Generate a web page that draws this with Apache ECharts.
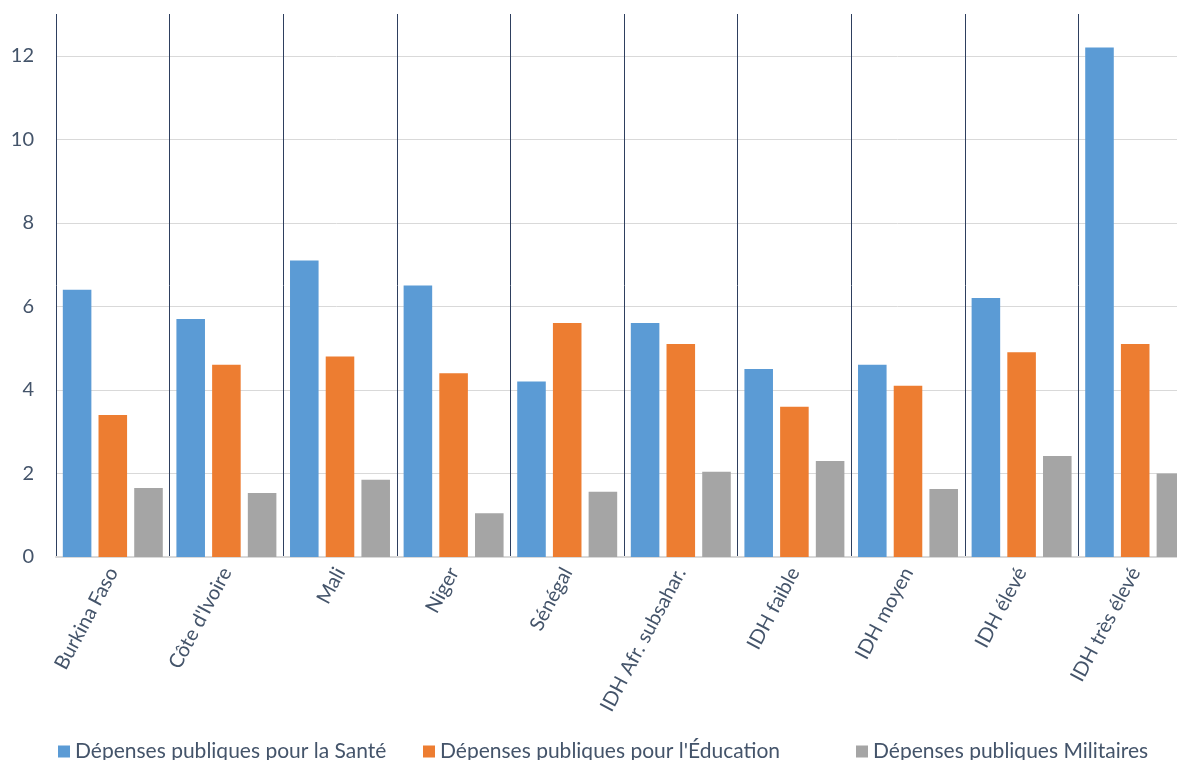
<!DOCTYPE html>
<html lang="fr">
<head>
    <meta charset="UTF-8">
    <title>Dépenses publiques</title>
    <style type="text/css">
        *{ margin: 0; padding: 0; }
        #main{ width: 1177px; height: 760px; }
    </style>
</head>
<body>
    <div id="main"></div>
    <script src="https://cdn.jsdelivr.net/npm/echarts@6/dist/echarts.min.js"></script>
    <script type="text/javascript">
        var categories = ['Burkina Faso', "Côte d'Ivoire", 'Mali', 'Niger', 'Sénégal',
            'IDH Afr. subsahar.', 'IDH faible', 'IDH moyen', 'IDH élevé', 'IDH très élevé'];
        var sante = [6.4, 5.7, 7.1, 6.5, 4.2, 5.6, 4.5, 4.6, 6.2, 12.2];
        var education = [3.4, 4.6, 4.8, 4.4, 5.6, 5.1, 3.6, 4.1, 4.9, 5.1];
        var militaires = [1.65, 1.53, 1.85, 1.05, 1.56, 2.04, 2.3, 1.63, 2.42, 2.0];
        var seriesNames = ['Dépenses publiques pour la Santé', "Dépenses publiques pour l'Éducation", 'Dépenses publiques Militaires'];

        var textColor = '#44546A';
        var fontFamily = 'Lato, "Open Sans", sans-serif';

        var myChart = echarts.init(document.getElementById('main'));

        // une légende par série pour caler les positions
        var legendLefts = [53, 418, 851];
        var legends = seriesNames.map(function (name, i) {
            return {
                top: 736,
                left: legendLefts[i],
                itemWidth: 12,
                itemHeight: 12,
                icon: 'rect',
                textStyle: { color: textColor, fontSize: 21, fontFamily: fontFamily },
                data: [name]
            };
        });

        var option = {
            color: ['#5B9BD5', '#ED7D31', '#A5A5A5'],
            textStyle: { fontFamily: fontFamily },
            legend: legends,
            grid: {
                left: 56,
                width: 1136,
                top: 14,
                bottom: 203,
                outerBoundsMode: 'none'
            },
            xAxis: {
                type: 'category',
                data: categories,
                axisLine: { lineStyle: { color: '#D9D9D9', width: 2 } },
                axisTick: { show: false },
                splitLine: { show: true, lineStyle: { color: '#2E3F5E', width: 1 } },
                axisLabel: {
                    rotate: 62,
                    margin: 12,
                    color: textColor,
                    fontSize: 20,
                    fontFamily: fontFamily,
                    interval: 0
                }
            },
            yAxis: {
                type: 'value',
                min: 0,
                max: 13,
                interval: 2,
                axisLine: { show: false },
                axisTick: { show: false },
                splitLine: { showMaxLine: false, lineStyle: { color: '#D9D9D9', width: 1 } },
                axisLabel: {
                    showMaxLabel: false,
                    margin: 22,
                    color: textColor,
                    fontSize: 20,
                    fontFamily: fontFamily
                }
            },
            series: [
                { name: seriesNames[0], type: 'bar', data: sante, barGap: '25%', barCategoryGap: '12%' },
                { name: seriesNames[1], type: 'bar', data: education },
                { name: seriesNames[2], type: 'bar', data: militaires }
            ]
        };

        myChart.setOption(option);
    </script>
</body>
</html>
